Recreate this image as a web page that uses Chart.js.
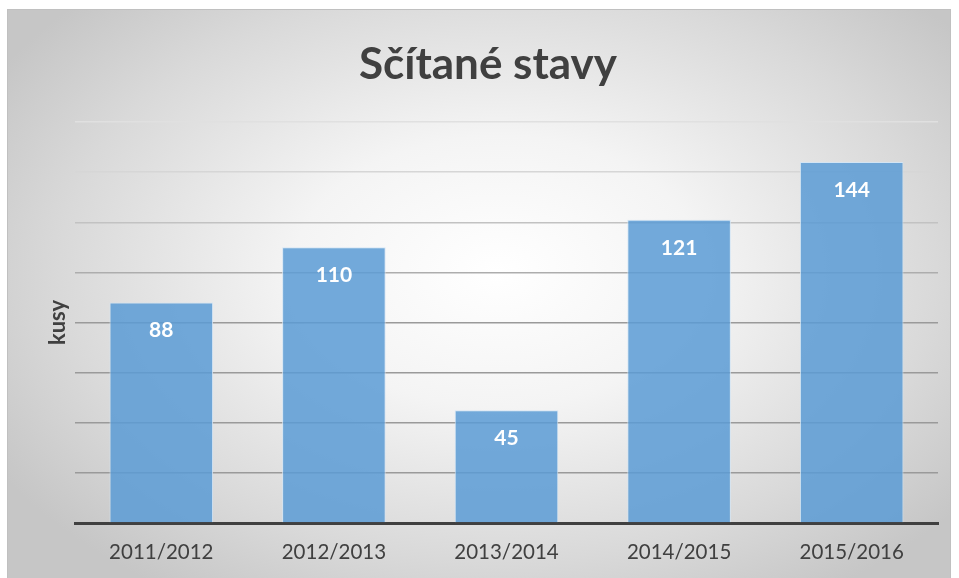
<!DOCTYPE html>
<html>
<head>
<meta charset="utf-8">
<script src="https://cdn.jsdelivr.net/npm/chart.js@4"></script>
<style>
    body { margin: 0; background: #ffffff; }
    #frame
    {
        position: absolute;
        left: 7px;
        top: 9px;
        width: 942px;
        height: 568px;
        border: 1px solid #c0c0c0;
        border-bottom: none;
        background: radial-gradient(ellipse 62% 68% at 52% 46%, #ffffff 0%, #f4f4f4 35%, #d9d9d9 75%, #c6c6c6 100%);
    }
    #chart { display: block; }
</style>
</head>
<body>
<div id="frame"><canvas id="chart" width="942" height="568"></canvas></div>
<script>
const seasons = ["2011/2012", "2012/2013", "2013/2014", "2014/2015", "2015/2016"];
const counts = [88, 110, 45, 121, 144];

// white value labels near the top of each bar
const barLabels =
{
    id: "barLabels",
    afterDatasetsDraw(chart)
    {
        const ctx = chart.ctx;
        const meta = chart.getDatasetMeta(0);
        ctx.save();
        ctx.fillStyle = "#ffffff";
        ctx.font = "bold 21px Lato, 'Open Sans', sans-serif";
        ctx.textAlign = "center";
        ctx.textBaseline = "middle";
        meta.data.forEach((bar, i) =>
        {
            ctx.fillText(String(counts[i]), bar.x, bar.y + 28);
        });
        ctx.restore();
    }
};

new Chart(document.getElementById("chart"),
{
    type: "bar",
    data:
    {
        labels: seasons,
        datasets:
        [
            {
                label: "kusy",
                data: counts,
                backgroundColor: "rgba(91,155,213,0.85)",
                borderColor: "rgba(210,228,245,0.9)",
                borderWidth: 1,
                borderSkipped: "bottom",
                categoryPercentage: 0.6,
                barPercentage: 1
            }
        ]
    },
    options:
    {
        responsive: false,
        animation: false,
        layout:
        {
            padding: { left: 30, right: 12, top: 0, bottom: 0 }
        },
        plugins:
        {
            legend: { display: false },
            tooltip: { enabled: false },
            title:
            {
                display: true,
                text: "Sčítané stavy",
                color: "#404040",
                font: { family: "Lato, 'Open Sans', sans-serif", size: 44, weight: "bold" },
                padding: { top: 28.6, bottom: 30.6 }
            }
        },
        scales:
        {
            x:
            {
                grid: { display: false, drawTicks: false },
                border: { display: true, color: "#404040", width: 3 },
                ticks:
                {
                    color: "#404040",
                    font: { family: "Lato, 'Open Sans', sans-serif", size: 20.5 },
                    padding: 16.7
                },
                afterFit(scale) { scale.height = 55; }
            },
            y:
            {
                min: 0,
                max: 160,
                ticks: { display: false, stepSize: 20 },
                grid:
                {
                    drawTicks: false,
                    lineWidth: 1.5,
                    color(c)
                    {
                        const v = c.tick ? c.tick.value : 0;
                        if (v >= 160) return "#e0e0e0";
                        if (v >= 140) return "#d6d6d6";
                        if (v >= 120) return "#c2c2c2";
                        if (v >= 100) return "#adadad";
                        return "#9a9a9a";
                    }
                },
                border: { display: false },
                title:
                {
                    display: true,
                    text: "kusy",
                    color: "#404040",
                    font: { family: "Lato, 'Open Sans', sans-serif", size: 22, weight: "bold" },
                    padding: { top: 6.8, bottom: 0 }
                },
                afterFit(scale) { scale.width = 37; }
            }
        }
    },
    plugins: [barLabels]
});
</script>
</body>
</html>
